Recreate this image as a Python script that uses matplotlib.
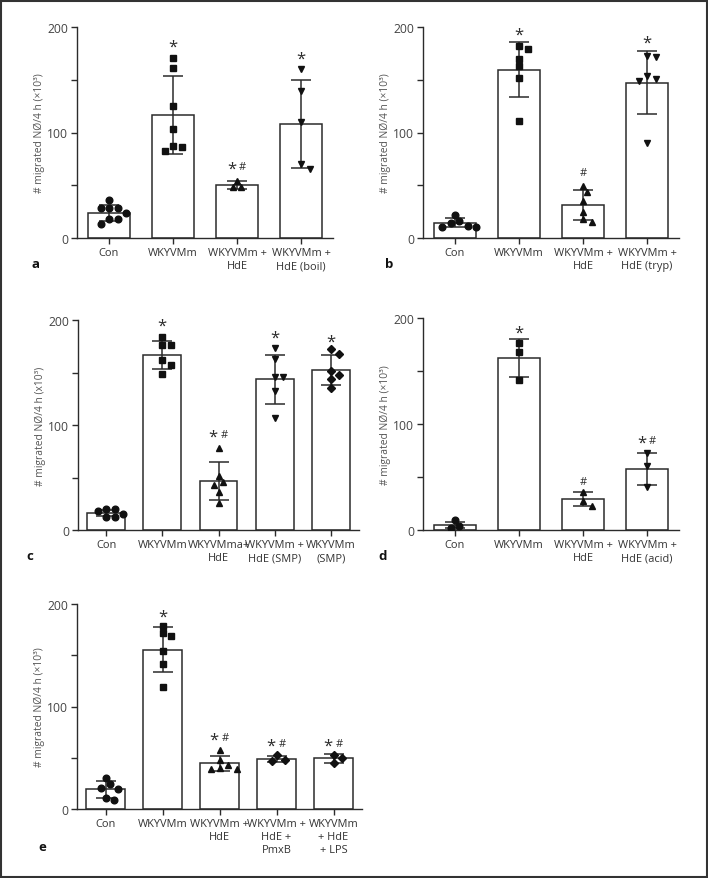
import matplotlib
matplotlib.use("Agg")
import matplotlib.pyplot as plt
import numpy as np
from matplotlib.patches import Rectangle

plt.rcParams['font.family'] = ['Open Sans', 'DejaVu Sans']

# ---------------- data ----------------
a_labels = ["Con", "WKYVMm", "WKYVMm +\nHdE", "WKYVMm +\nHdE (boil)"]
a_means = [23.9, 116.6, 50.6, 108.3]
a_sd = [7.8, 36.9, 3.8, 41.8]
a_points = [[36, 28, 28, 28, 24, 18, 18, 13], [171, 161, 125, 103, 87, 86, 82],
            [54, 48, 48], [160, 139, 110, 70, 65]]
a_sig = ["", "*", "*#", "*"]
a_sig_y = [0, 181, 65.5, 170]

b_labels = ["Con", "WKYVMm", "WKYVMm +\nHdE", "WKYVMm +\nHdE (tryp)"]
b_means = [14.6, 159.5, 31.2, 147.0]
b_sd = [4.2, 26.3, 14.4, 29.9]
b_points = [[22.2, 16.5, 11.4, 10.8, 10.8, 14.6], [181.6, 178.8, 169.6, 163.3, 151.9, 110.8],
            [49.7, 44.0, 35.4, 24.4, 18.0, 14.9], [171.5, 172.8, 150.3, 148.7, 153.2, 90.2]]
b_sig = ["", "*", "#", "*"]
b_sig_y = [0, 192.7, 61.7, 184.8]

c_labels = ["Con", "WKYVMm", "WKYVMma+\nHdE", "WKYVMm +\nHdE (SMP)", "WKYVMm\n(SMP)"]
c_means = [16.4, 167.0, 46.9, 143.7, 152.6]
c_sd = [3.1, 13.3, 18.0, 23.4, 14.5]
c_points = [[19.7, 15.2, 12.7, 12.7, 18.1, 19.7], [183.5, 176.2, 176.2, 161.9, 157.1, 148.6],
            [78.4, 46.0, 51.4, 42.9, 35.9, 26.0], [173.3, 162.9, 145.4, 146.0, 132.0, 106.7],
            [167.6, 172.0, 147.6, 151.1, 143.8, 134.9]]
c_sig = ["", "*", "*#", "*", "*"]
c_sig_y = [0, 194.6, 88.9, 183.5, 179.4]

d_labels = ["Con", "WKYVMm", "WKYVMm +\nHdE", "WKYVMm +\nHdE (acid)"]
d_means = [4.8, 161.9, 29.2, 57.7]
d_sd = [3.2, 18.0, 6.2, 15.2]
d_points = [[9.1, 2.2, 3.8], [176.4, 167.9, 141.4], [35.6, 27.7, 23.0], [72.8, 60.5, 40.9]]
d_sig = ["", "*", "#", "*#"]
d_sig_y = [0, 186.5, 45.4, 82.8]

e_labels = ["Con", "WKYVMm", "WKYVMm +\nHdE", "WKYVMm +\nHdE +\nPmxB", "WKYVMm\n+ HdE\n+ LPS"]
e_means = [19.2, 155.6, 44.6, 48.8, 49.3]
e_sd = [8.1, 22.3, 7.5, 2.9, 4.1]
e_points = [[30.2, 24.4, 20.8, 19.2, 11.1, 8.8], [178.2, 171.7, 168.8, 154.1, 141.1, 119.0],
            [57.2, 47.5, 39.7, 39.0, 39.0, 42.6], [52.4, 46.8, 47.5], [53.0, 49.8, 45.2]]
e_sig = ["", "*", "*#", "*#", "*#"]
e_sig_y = [0, 188, 67.6, 62.1, 62.1]

ylabel_main = "# migrated NØ/4 h (×10³)"
ylabel_c = "# migrated NØ/4 h (x10³)"

# ---------------- layout ----------------
W, H = 708, 879
fig = plt.figure(figsize=(W / 100, H / 100), dpi=100)

DARK = "#2b2b2b"
GRAY = "#444444"

def ax_at(left, top, right, bottom):
    return fig.add_axes([left / W, 1 - bottom / H, (right - left) / W, (bottom - top) / H])

def swarm(vals, xpu, ypu, dx=8.5, dy=6.5):
    placed = []
    order = np.argsort(-np.asarray(vals), kind="stable")
    res = [0.0] * len(vals)
    cands = [0.0]
    for i in range(1, 12):
        cands += [i * dx * 0.5, -i * dx * 0.5]
    for idx in order:
        y = vals[idx] * ypu
        for c in cands:
            if all(((c - px) / dx) ** 2 + ((y - py) / dy) ** 2 >= 0.98 for px, py in placed):
                break
        placed.append((c, y))
        res[idx] = c / xpu
    return res

markers = ["o", "s", "^", "v", "D"]
msizes = [4.8, 4.6, 5.0, 5.0, 4.0]

def panel(box, labels, means, sd, points, sig, sig_y, ylabel, letter, letter_xy, mk=None):
    left, top, right, bottom = box
    ax = ax_at(left, top, right, bottom)
    n = len(labels)
    x = np.arange(n)
    ax.set_xlim(-0.5, n - 0.5)
    ax.set_ylim(0, 200)
    ax.bar(x, means, width=0.67, color="white", edgecolor=DARK, linewidth=1.1, zorder=2)
    ax.errorbar(x, means, yerr=sd, fmt="none", ecolor=DARK, elinewidth=1.1,
                capsize=7.5, capthick=1.1, zorder=3)
    xpu = (right - left) / n
    ypu = (bottom - top) / 200
    mk = mk or markers
    for i, pts in enumerate(points):
        offs = swarm(pts, xpu, ypu)
        ax.plot(x[i] + np.array(offs), pts, linestyle="none", marker=mk[i],
                ms=msizes[markers.index(mk[i])], color="#111111", zorder=4)
    for i, s in enumerate(sig):
        if not s:
            continue
        if s == "*":
            ax.annotate("*", xy=(x[i], sig_y[i]), ha="center", va="center",
                        fontsize=12, color=DARK, annotation_clip=False)
        elif s == "#":
            ax.annotate("#", xy=(x[i], sig_y[i]), ha="center", va="center",
                        fontsize=8, color=DARK, annotation_clip=False)
        else:
            ax.annotate("*", xy=(x[i], sig_y[i]), xytext=(-4, 0), textcoords="offset points",
                        ha="center", va="center", fontsize=12, color=DARK, annotation_clip=False)
            ax.annotate("#", xy=(x[i], sig_y[i]), xytext=(4, 1.5), textcoords="offset points",
                        ha="center", va="center", fontsize=8, color=DARK, annotation_clip=False)
    for sp in ["top", "right"]:
        ax.spines[sp].set_visible(False)
    for sp in ["left", "bottom"]:
        ax.spines[sp].set_color(DARK)
        ax.spines[sp].set_linewidth(1.0)
    ax.set_yticks([0, 100, 200])
    ax.set_yticks([50, 150], minor=True)
    ax.tick_params(axis="y", which="both", length=4.2, width=1.0, color=DARK,
                   labelsize=8.7, labelcolor=GRAY, pad=2)
    ax.set_xticks(x)
    ax.set_xticklabels(labels, fontsize=7.9, color="#333333", linespacing=1.25)
    ax.tick_params(axis="x", length=4.2, width=1.0, color=DARK, pad=2.5)
    ax.set_ylabel(ylabel, fontsize=7.4, color="#555555", labelpad=2)
    fig.text(letter_xy[0] / W, 1 - letter_xy[1] / H, letter, fontsize=9.5,
             fontweight="bold", ha="center", va="center", color="#111111")
    return ax

panel((77, 28, 333, 239), a_labels, a_means, a_sd, a_points, a_sig, a_sig_y,
      ylabel_main, "a", (35, 265))
panel((423, 28, 679, 239), b_labels, b_means, b_sd, b_points, b_sig, b_sig_y,
      ylabel_main, "b", (389, 265))
panel((78, 321, 359, 531), c_labels, c_means, c_sd, c_points, c_sig, c_sig_y,
      ylabel_c, "c", (30, 557))
panel((423, 319, 679, 531), d_labels, d_means, d_sd, d_points, d_sig, d_sig_y,
      ylabel_main, "d", (383, 557))
panel((77, 605, 362, 810), e_labels, e_means, e_sd, e_points, e_sig, e_sig_y,
      ylabel_main, "e", (42, 848), mk=["o", "s", "^", "D", "D"])

fig.patches.append(Rectangle((1 / W, 1 / H), 1 - 2.5 / W, 1 - 2.5 / H, transform=fig.transFigure,
                             fill=False, edgecolor="#333333", linewidth=1.5, zorder=10))

fig.savefig("out.png", dpi=100)
